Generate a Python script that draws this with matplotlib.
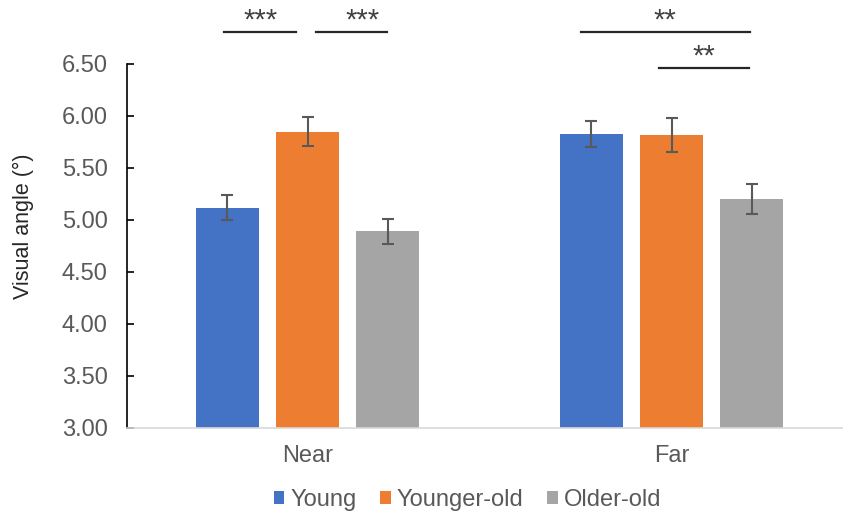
import matplotlib.pyplot as plt
import numpy as np

conditions = ["Near", "Far"]
groups = ["Young", "Younger-old", "Older-old"]
colors = ["#4472C4", "#ED7D31", "#A5A5A5"]

# mean visual angle per group, [Near, Far]
young = [5.12, 5.83]
younger_old = [5.85, 5.82]
older_old = [4.89, 5.20]
means = [young, younger_old, older_old]

young_err = [0.12, 0.125]
younger_old_err = [0.14, 0.165]
older_old_err = [0.117, 0.146]
errs = [young_err, younger_old_err, older_old_err]

# significance brackets: (x_start, x_end, y, label, label_x)
sig_brackets = [
    (-0.229, -0.032, 6.805, "***", -0.13),
    (0.023, 0.218, 6.805, "***", 0.152),
    (0.751, 1.216, 6.805, "**", 0.982),
    (0.966, 1.212, 6.459, "**", 1.09),
]

plt.rcParams["font.family"] = ["Liberation Sans", "DejaVu Sans"]
text_gray = "#595959"

fig = plt.figure(figsize=(8.43, 5.16), dpi=100)
ax = fig.add_axes([127 / 843, 1 - 428 / 516, (843 - 127) / 843, (428 - 64) / 516])

x = np.arange(len(conditions))
offsets = [-0.22, 0.0, 0.22]
width = 0.175
for i, g in enumerate(groups):
    ax.bar(x + offsets[i], means[i], width, color=colors[i], label=g,
           yerr=errs[i], capsize=4.5,
           error_kw=dict(ecolor="#595959", elinewidth=1.5, capthick=1.5),
           zorder=2)

ax.set_ylim(3.0, 6.5)
ax.set_xlim(-0.496, 1.471)
ax.set_yticks(np.arange(3.0, 6.51, 0.5))
ax.set_yticklabels([f"{v:.2f}" for v in np.arange(3.0, 6.51, 0.5)])
ax.set_xticks(x)
ax.set_xticklabels(conditions)

for s in ["top", "right"]:
    ax.spines[s].set_visible(False)
ax.spines["left"].set_color("black")
ax.spines["left"].set_linewidth(1.2)
ax.spines["bottom"].set_color("#D9D9D9")
ax.spines["bottom"].set_linewidth(1.2)

ax.tick_params(axis="y", direction="in", length=5, width=1.2, color="black",
               labelsize=17, labelcolor=text_gray, pad=14)
ax.tick_params(axis="x", length=0, labelsize=17, labelcolor=text_gray, pad=12)

ax.set_ylabel("Visual angle (°)", fontsize=15.5, color="#262626")
ax.yaxis.set_label_coords(-0.13, 0.555)

for x0, x1, y, lab, lx in sig_brackets:
    ax.plot([x0, x1], [y, y], color="#262626", lw=1.6, clip_on=False)
    ax.text(lx, y + 0.035, lab, ha="center", va="baseline", fontsize=21,
            color="#404040", clip_on=False)

ax.legend(loc="center", bbox_to_anchor=(467.5 / 843, 1 - 500 / 516),
          bbox_transform=fig.transFigure, ncol=3, frameon=False,
          fontsize=17, labelcolor=text_gray, handlelength=0.45,
          handleheight=0.45, handletextpad=0.25, columnspacing=1.0)

fig.savefig("out.png", dpi=100)
